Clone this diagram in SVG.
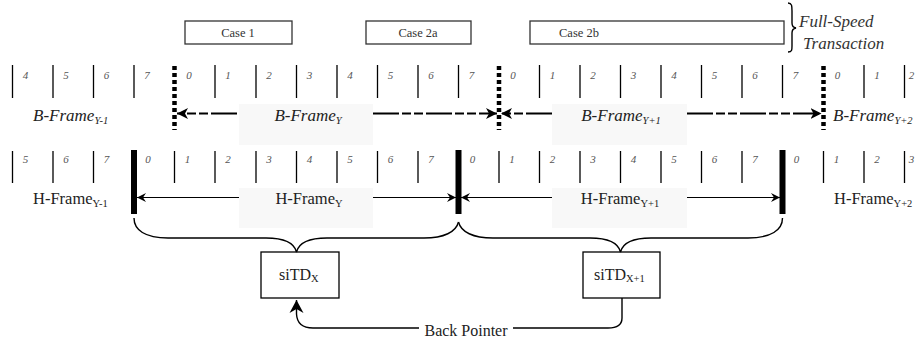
<svg xmlns="http://www.w3.org/2000/svg" width="917" height="339" viewBox="0 0 917 339">
<style>
.bg{fill:#ffffff}
.lbg{fill:#f8f8f8}
.case{fill:#fff;stroke:#333;stroke-width:1.3}
.ct{font-family:"Liberation Serif",serif;font-size:12.5px;fill:#333}
.dig{font-family:"Liberation Serif",serif;font-style:italic;font-size:11px;fill:#555;text-anchor:middle}
.tick{stroke:#000;stroke-width:1.3}
.dot{stroke:#000;stroke-width:4.5;stroke-dasharray:4 3}
.bar{stroke:#000;stroke-width:6}
.bt{font-family:"Liberation Serif",serif;font-style:italic;font-size:17px;fill:#222}
.ht{font-family:"Liberation Serif",serif;font-size:16.5px;fill:#222}
.sub{font-size:10.5px}
.bl{stroke:#000;stroke-width:2;fill:none;stroke-dasharray:26 3 9 3 9 3}
.hl{stroke:#000;stroke-width:1.2;fill:none}
.br{stroke:#000;stroke-width:1.4;fill:none}
.node{fill:#fff;stroke:#000;stroke-width:1.3}
.nt{font-family:"Liberation Serif",serif;font-size:16px;fill:#222}
.fs{font-family:"Liberation Serif",serif;font-style:italic;font-size:17px;fill:#333}
</style>
<defs>
<marker id="ab" viewBox="0 -6 12 12" refX="11" refY="0" markerWidth="12" markerHeight="12" markerUnits="userSpaceOnUse" orient="auto-start-reverse">
<path d="M0,-5.5 L11,0 L0,5.5 L3,0 Z" fill="#000"/>
</marker>
<marker id="ah" viewBox="0 -5 10 10" refX="9" refY="0" markerWidth="10" markerHeight="10" markerUnits="userSpaceOnUse" orient="auto-start-reverse">
<path d="M0,-4.5 L9,0 L0,4.5 L3,0 Z" fill="#000"/>
</marker>
<marker id="abp" viewBox="0 -8 14 16" refX="13" refY="0" markerWidth="14" markerHeight="16" markerUnits="userSpaceOnUse" orient="auto">
<path d="M0,-7 L13,0 L0,7 L4,0 Z" fill="#000"/>
</marker>
</defs>
<rect class="bg" x="0" y="0" width="917" height="339"/>

<!-- label backgrounds -->
<rect class="lbg" x="239" y="104" width="134" height="41"/>
<rect class="lbg" x="552" y="104" width="135" height="41"/>
<rect class="lbg" x="239" y="188" width="134" height="40"/>
<rect class="lbg" x="552" y="188" width="135" height="40"/>

<!-- case boxes -->
<g id="case1"><rect class="case" x="185" y="21" width="107" height="23"/><text class="ct" x="238" y="37" text-anchor="middle">Case 1</text></g>
<g id="case2a"><rect class="case" x="366" y="21" width="105" height="23"/><text class="ct" x="418" y="37" text-anchor="middle">Case 2a</text></g>
<g id="case2b"><rect class="case" x="530" y="21" width="254" height="23"/><text class="ct" x="559" y="37">Case 2b</text></g>
<g id="fullspeed">
<path class="br" d="M788,3 C792,3 792,6 792,11 L792,23 C792,26 793,27.5 796,28 C793,28.5 792,30 792,33 L792,46 C792,50 792,52 788,52"/>
<text class="fs" x="799" y="27">Full-Speed</text>
<text class="fs" x="803" y="49">Transaction</text>
</g>

<!-- B-frame row -->
<g id="bframe-ticks">
<line class="tick" x1="12.5" y1="65" x2="12.5" y2="98"/>
<line class="tick" x1="53" y1="65" x2="53" y2="98"/>
<line class="tick" x1="93.5" y1="65" x2="93.5" y2="98"/>
<line class="tick" x1="134" y1="65" x2="134" y2="98"/>
<line class="dot" x1="174.5" y1="66" x2="174.5" y2="130"/>
<line class="tick" x1="215" y1="65" x2="215" y2="98"/>
<line class="tick" x1="256" y1="65" x2="256" y2="98"/>
<line class="tick" x1="296.5" y1="65" x2="296.5" y2="98"/>
<line class="tick" x1="337" y1="65" x2="337" y2="98"/>
<line class="tick" x1="377.5" y1="65" x2="377.5" y2="98"/>
<line class="tick" x1="418" y1="65" x2="418" y2="98"/>
<line class="tick" x1="458.5" y1="65" x2="458.5" y2="98"/>
<line class="dot" x1="499" y1="66" x2="499" y2="130"/>
<line class="tick" x1="539.5" y1="65" x2="539.5" y2="98"/>
<line class="tick" x1="580" y1="65" x2="580" y2="98"/>
<line class="tick" x1="620.5" y1="65" x2="620.5" y2="98"/>
<line class="tick" x1="661" y1="65" x2="661" y2="98"/>
<line class="tick" x1="701.5" y1="65" x2="701.5" y2="98"/>
<line class="tick" x1="742" y1="65" x2="742" y2="98"/>
<line class="tick" x1="782.5" y1="65" x2="782.5" y2="98"/>
<line class="dot" x1="823.5" y1="66" x2="823.5" y2="130"/>
<line class="tick" x1="864" y1="65" x2="864" y2="98"/>
<line class="tick" x1="904.5" y1="65" x2="904.5" y2="98"/>
</g>
<g id="bframe-digits">
<text class="dig" x="25.5" y="79">4</text>
<text class="dig" x="66" y="79">5</text>
<text class="dig" x="106.5" y="79">6</text>
<text class="dig" x="147" y="79">7</text>
<text class="dig" x="189" y="79">0</text>
<text class="dig" x="228" y="79">1</text>
<text class="dig" x="269" y="79">2</text>
<text class="dig" x="309.5" y="79">3</text>
<text class="dig" x="350" y="79">4</text>
<text class="dig" x="390.5" y="79">5</text>
<text class="dig" x="431" y="79">6</text>
<text class="dig" x="471.5" y="79">7</text>
<text class="dig" x="513" y="79">0</text>
<text class="dig" x="552.5" y="79">1</text>
<text class="dig" x="593" y="79">2</text>
<text class="dig" x="633.5" y="79">3</text>
<text class="dig" x="674" y="79">4</text>
<text class="dig" x="714.5" y="79">5</text>
<text class="dig" x="755" y="79">6</text>
<text class="dig" x="795.5" y="79">7</text>
<text class="dig" x="837.5" y="79">0</text>
<text class="dig" x="877" y="79">1</text>
<text class="dig" x="911.5" y="79">2</text>
</g>
<g id="bframe-labels">
<text class="bt" x="33" y="121">B-Frame<tspan class="sub" dy="3">Y-1</tspan></text>
<text class="bt" x="308" y="121" text-anchor="middle">B-Frame<tspan class="sub" dy="3">Y</tspan></text>
<text class="bt" x="621" y="121" text-anchor="middle">B-Frame<tspan class="sub" dy="3">Y+1</tspan></text>
<text class="bt" x="833" y="121">B-Frame<tspan class="sub" dy="3">Y+2</tspan></text>
</g>

<!-- H-frame row -->
<g id="hframe-ticks">
<line class="tick" x1="12.5" y1="151" x2="12.5" y2="183"/>
<line class="tick" x1="53" y1="151" x2="53" y2="183"/>
<line class="tick" x1="93.5" y1="151" x2="93.5" y2="183"/>
<line class="bar" x1="134" y1="150" x2="134" y2="214"/>
<line class="tick" x1="174.5" y1="151" x2="174.5" y2="183"/>
<line class="tick" x1="215" y1="151" x2="215" y2="183"/>
<line class="tick" x1="256" y1="151" x2="256" y2="183"/>
<line class="tick" x1="296.5" y1="151" x2="296.5" y2="183"/>
<line class="tick" x1="337" y1="151" x2="337" y2="183"/>
<line class="tick" x1="377.5" y1="151" x2="377.5" y2="183"/>
<line class="tick" x1="418" y1="151" x2="418" y2="183"/>
<line class="bar" x1="458.5" y1="150" x2="458.5" y2="214"/>
<line class="tick" x1="499" y1="151" x2="499" y2="183"/>
<line class="tick" x1="539.5" y1="151" x2="539.5" y2="183"/>
<line class="tick" x1="580" y1="151" x2="580" y2="183"/>
<line class="tick" x1="620.5" y1="151" x2="620.5" y2="183"/>
<line class="tick" x1="661" y1="151" x2="661" y2="183"/>
<line class="tick" x1="701.5" y1="151" x2="701.5" y2="183"/>
<line class="tick" x1="742" y1="151" x2="742" y2="183"/>
<line class="bar" x1="782.5" y1="150" x2="782.5" y2="214"/>
<line class="tick" x1="823.5" y1="151" x2="823.5" y2="183"/>
<line class="tick" x1="864" y1="151" x2="864" y2="183"/>
<line class="tick" x1="904.5" y1="151" x2="904.5" y2="183"/>
</g>
<g id="hframe-digits">
<text class="dig" x="25.5" y="163">5</text>
<text class="dig" x="66" y="163">6</text>
<text class="dig" x="106.5" y="163">7</text>
<text class="dig" x="148" y="163">0</text>
<text class="dig" x="187.5" y="163">1</text>
<text class="dig" x="228" y="163">2</text>
<text class="dig" x="269" y="163">3</text>
<text class="dig" x="309.5" y="163">4</text>
<text class="dig" x="350" y="163">5</text>
<text class="dig" x="390.5" y="163">6</text>
<text class="dig" x="431" y="163">7</text>
<text class="dig" x="472.5" y="163">0</text>
<text class="dig" x="512" y="163">1</text>
<text class="dig" x="552.5" y="163">2</text>
<text class="dig" x="593" y="163">3</text>
<text class="dig" x="633.5" y="163">4</text>
<text class="dig" x="674" y="163">5</text>
<text class="dig" x="714.5" y="163">6</text>
<text class="dig" x="755" y="163">7</text>
<text class="dig" x="796.5" y="163">0</text>
<text class="dig" x="836.5" y="163">1</text>
<text class="dig" x="877" y="163">2</text>
<text class="dig" x="911.5" y="163">3</text>
</g>
<g id="hframe-labels">
<text class="ht" x="33" y="204">H-Frame<tspan class="sub" dy="3">Y-1</tspan></text>
<text class="ht" x="309" y="204" text-anchor="middle">H-Frame<tspan class="sub" dy="3">Y</tspan></text>
<text class="ht" x="620" y="204" text-anchor="middle">H-Frame<tspan class="sub" dy="3">Y+1</tspan></text>
<text class="ht" x="834" y="204">H-Frame<tspan class="sub" dy="3">Y+2</tspan></text>
</g>

<!-- nodes -->
<g id="sitd-x">
<rect class="node" x="261" y="252" width="78" height="46"/>
<text class="nt" x="279" y="280">siTD<tspan class="sub" font-size="11" dy="2">X</tspan></text>
</g>
<g id="sitd-x1">
<rect class="node" x="583" y="252" width="77" height="46"/>
<text class="nt" x="594" y="280">siTD<tspan class="sub" font-size="11" dy="2">X+1</tspan></text>
</g>
<text class="nt" x="466" y="336" text-anchor="middle" font-size="17">Back Pointer</text>

<!-- connectors -->
<g id="connectors">
<line class="bl" x1="237" y1="113.5" x2="177" y2="113.5" marker-end="url(#ab)"/>
<line class="bl" x1="373" y1="113.5" x2="497" y2="113.5" marker-end="url(#ab)"/>
<line class="bl" x1="552" y1="113.5" x2="501" y2="113.5" marker-end="url(#ab)"/>
<line class="bl" x1="687" y1="113.5" x2="821.5" y2="113.5" marker-end="url(#ab)"/>
<line class="hl" x1="239" y1="197.5" x2="137" y2="197.5" marker-end="url(#ah)"/>
<line class="hl" x1="373" y1="197.5" x2="456" y2="197.5" marker-end="url(#ah)"/>
<line class="hl" x1="552" y1="197.5" x2="461" y2="197.5" marker-end="url(#ah)"/>
<line class="hl" x1="687" y1="197.5" x2="780" y2="197.5" marker-end="url(#ah)"/>
<path class="br" d="M134,218 C134,230 145,238 168,238 L266,238 C284,238 294,242 296.5,252 C299,242 309,238 327,238 L424,238 C444,238 456,232 458.5,222"/>
<path class="br" d="M458.5,222 C461,232 473,238 493,238 L590,238 C608,238 618,242 620.5,252 C623,242 633,238 651,238 L748,238 C771,238 782.5,230 782.5,218"/>
<path class="br" d="M622,298 L622,318 C622,325 617,328 608,328 L513,328"/>
<path class="br" d="M419,328 L313,328 C303,328 297,324 296.5,314 L296.5,300" marker-end="url(#abp)"/>
</g>
</svg>
